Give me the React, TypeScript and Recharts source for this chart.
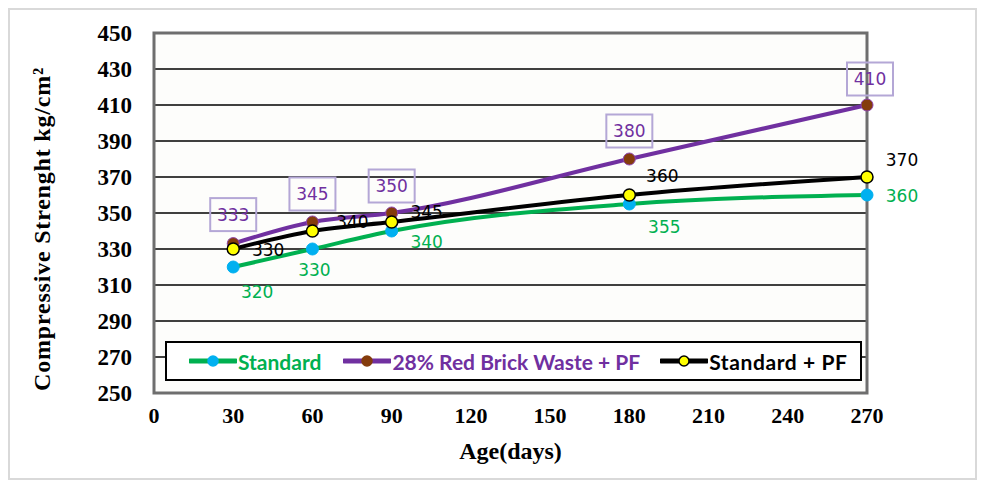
import {
  CartesianGrid,
  LabelList,
  Legend,
  Line,
  LineChart,
  ReferenceArea,
  XAxis,
  YAxis
} from "recharts";

const ages = [30, 60, 90, 180, 270];
const standard = [320, 330, 340, 355, 360];
const redBrick = [333, 345, 350, 380, 410];
const standardPf = [330, 340, 345, 360, 370];

const xTicks = [0, 30, 60, 90, 120, 150, 180, 210, 240, 270];
const yTicks = [250, 270, 290, 310, 330, 350, 370, 390, 410, 430, 450];

const data = ages.map((age, i) => ({
  age,
  standard: standard[i],
  redBrick: redBrick[i],
  standardPf: standardPf[i]
}));

// label nudges (text centre relative to the point), moved by hand like in the source sheet
const greenNudge = [[24, 25], [2, 21], [35, 11], [35, 23], [35, 1]];
const blackNudge = [[35, 1], [40, -9], [35, -10], [33, -19], [35, -17]];
const purpleNudge = [[0, -29], [0, -28], [0, -27], [0, -28], [3, -26]];

const GREEN = "#00b050";
const PURPLE = "#7030a0";
const LABEL_FONT = "DejaVu Sans, Verdana, sans-serif";
const AXIS_FONT = "Liberation Serif, Times New Roman, serif";

function makePlainLabel(nudge: number[][], color: string) {
  return (props: any) => {
    const { x, y, value, index } = props;
    const [dx, dy] = nudge[index] ?? [0, 0];
    return (
      <text
        x={x + dx}
        y={y + dy}
        textAnchor="middle"
        dominantBaseline="central"
        fill={color}
        fontSize={17}
        fontFamily={LABEL_FONT}
      >
        {value}
      </text>
    );
  };
}

function BoxLabel(props: any) {
  const { x, y, value, index } = props;
  const [dx, dy] = purpleNudge[index] ?? [0, 0];
  const cx = x + dx;
  const cy = y + dy;
  return (
    <g>
      <rect x={cx - 23} y={cy - 16.5} width={46} height={33} fill="none" stroke="#b4a7d6" strokeWidth={2} />
      <text
        x={cx}
        y={cy}
        textAnchor="middle"
        dominantBaseline="central"
        fill={PURPLE}
        fontSize={17}
        fontFamily={LABEL_FONT}
      >
        {value}
      </text>
    </g>
  );
}

function YTitle(props: any) {
  const { viewBox } = props;
  const cy = viewBox.y + viewBox.height / 2 + 16;
  return (
    <text
      x={32}
      y={cy}
      transform={`rotate(-90, 32, ${cy})`}
      textAnchor="middle"
      dominantBaseline="central"
      fontFamily={AXIS_FONT}
      fontWeight={700}
      fontSize={24}
      letterSpacing={0.8}
      fill="#000"
    >
      Compressive Strenght kg/cm²
    </text>
  );
}

const legendItems = [
  { name: "Standard", line: GREEN, dot: "#00b0f0", dotStroke: "#00b0f0", gap: 22 },
  { name: "28% Red Brick Waste + PF", line: PURPLE, dot: "#843c0c", dotStroke: "#843c0c", gap: 22 },
  { name: "Standard + PF", line: "#000", dot: "#ffff00", dotStroke: "#000", gap: 20 }
];

function LegendBox() {
  return (
    <div
      style={{
        boxSizing: "border-box",
        width: 697,
        height: 40,
        border: "2px solid #000",
        background: "#fff",
        display: "flex",
        alignItems: "center",
        fontFamily: "Lato, sans-serif",
        fontWeight: 700,
        fontSize: 21
      }}
    >
      {legendItems.map((item) => (
        <span key={item.name} style={{ display: "flex", alignItems: "center", marginLeft: item.gap }}>
          <svg width={48} height={14}>
            <line x1={1} y1={7} x2={47} y2={7} stroke={item.line} strokeWidth={5} strokeLinecap="round" />
            <circle cx={24} cy={7} r={5} fill={item.dot} stroke={item.dotStroke} strokeWidth={1.5} />
          </svg>
          <span style={{ color: item.line, marginLeft: 1, letterSpacing: item.name === "Standard + PF" ? 0.6 : 0 }}>
            {item.name}
          </span>
        </span>
      ))}
    </div>
  );
}

export default function App() {
  return (
    <div
      style={{
        boxSizing: "border-box",
        width: 969,
        height: 472,
        border: "2px solid #d9d9d9",
        background: "#fff"
      }}
    >
      <LineChart
        width={965}
        height={468}
        data={data}
        margin={{ top: 23, right: 108, bottom: 55, left: 0 }}
      >
        <CartesianGrid
          horizontal
          vertical={false}
          stroke="#000"
          strokeWidth={1.6}
          fill="#fdfdfb"
          horizontalValues={yTicks}
        />
        <XAxis
          dataKey="age"
          type="number"
          domain={[0, 270]}
          ticks={xTicks}
          interval={0}
          height={30}
          axisLine={false}
          tickLine={false}
          tickSize={0}
          tickMargin={14}
          tick={{ fill: "#000", fontFamily: AXIS_FONT, fontWeight: 700, fontSize: 22 }}
          label={{
            value: "Age(days)",
            position: "bottom",
            offset: 19,
            fill: "#000",
            fontFamily: AXIS_FONT,
            fontWeight: 700,
            fontSize: 24
          }}
        />
        <YAxis
          type="number"
          domain={[250, 450]}
          ticks={yTicks}
          interval={0}
          width={144}
          axisLine={false}
          tickLine={false}
          tickSize={0}
          tickMargin={22}
          tick={{ fill: "#000", fontFamily: AXIS_FONT, fontWeight: 700, fontSize: 23 }}
          label={<YTitle />}
        />
        <ReferenceArea
          x1={0}
          x2={270}
          y1={250}
          y2={450}
          fill="none"
          stroke="#6e6e6e"
          strokeWidth={3}
          ifOverflow="visible"
        />
        <Legend
          content={<LegendBox />}
          layout="horizontal"
          verticalAlign="middle"
          align="center"
          wrapperStyle={{ left: 155, top: 331, width: 697, height: 40 }}
        />
        <Line
          type="monotone"
          dataKey="standard"
          name="Standard"
          stroke={GREEN}
          strokeWidth={4}
          dot={{ r: 6, fill: "#00b0f0", stroke: "#00b0f0", strokeWidth: 1 }}
          isAnimationActive={false}
        >
          <LabelList dataKey="standard" content={makePlainLabel(greenNudge, GREEN)} />
        </Line>
        <Line
          type="monotone"
          dataKey="redBrick"
          name="28% Red Brick Waste + PF"
          stroke={PURPLE}
          strokeWidth={4}
          dot={{ r: 6, fill: "#843c0c", stroke: "#8e44ad", strokeWidth: 1 }}
          isAnimationActive={false}
        >
          <LabelList dataKey="redBrick" content={BoxLabel} />
        </Line>
        <Line
          type="monotone"
          dataKey="standardPf"
          name="Standard + PF"
          stroke="#000"
          strokeWidth={4}
          dot={{ r: 6, fill: "#ffff00", stroke: "#000", strokeWidth: 1.5 }}
          isAnimationActive={false}
        >
          <LabelList dataKey="standardPf" content={makePlainLabel(blackNudge, "#000")} />
        </Line>
      </LineChart>
    </div>
  );
}
